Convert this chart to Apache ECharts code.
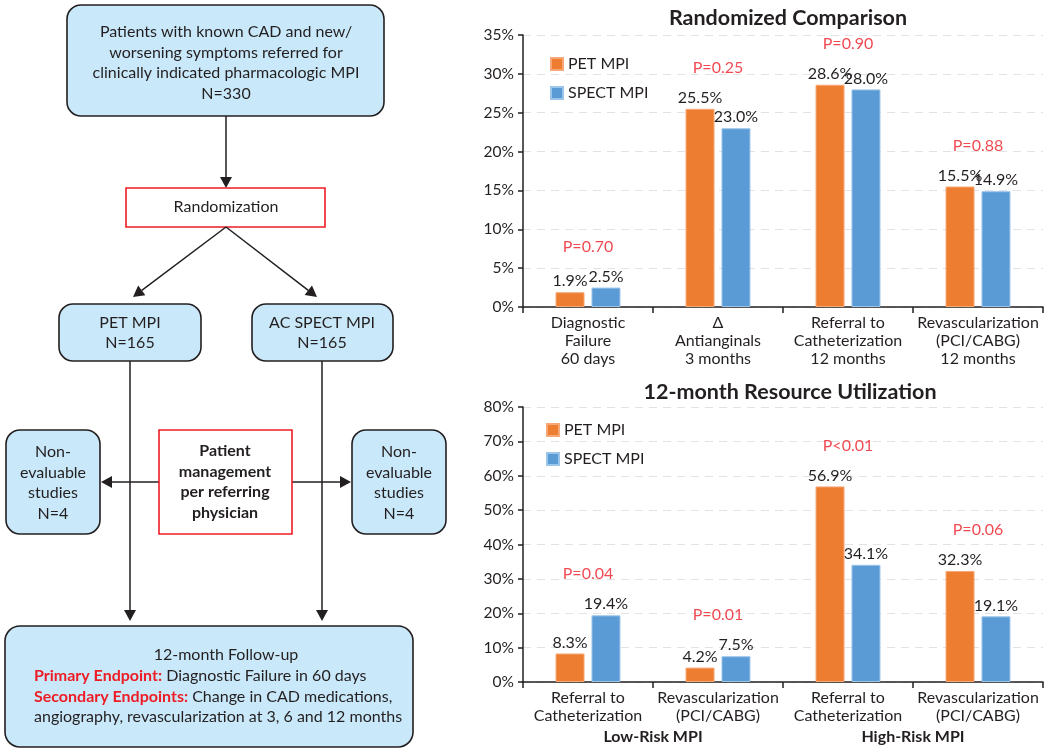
<!DOCTYPE html>
<html>
<head>
<meta charset="UTF-8">
<title>PET vs SPECT MPI</title>
<style>
  html, body {margin:0; padding:0; background:#fff;}
  #main {width:1050px; height:752px;}
</style>
<script src="https://cdn.jsdelivr.net/npm/echarts@6/dist/echarts.min.js"></script>
</head>
<body>
<div id="main"></div>
<script>
// top chart: randomized comparison
var cats1 = ['Diagnostic\nFailure\n60 days', '\u0394\nAntianginals\n3 months', 'Referral to\nCatheterization\n12 months', 'Revascularization\n(PCI/CABG)\n12 months'];
var pet1 = [1.9, 25.5, 28.6, 15.5];
var spect1 = [2.5, 23.0, 28.0, 14.9];
var pval1 = ['P=0.70', 'P=0.25', 'P=0.90', 'P=0.88'];

// bottom chart: 12-month resource utilization
var cats2 = ['Referral to\nCatheterization', 'Revascularization\n(PCI/CABG)', 'Referral to\nCatheterization', 'Revascularization\n(PCI/CABG)'];
var pet2 = [8.3, 4.2, 56.9, 32.3];
var spect2 = [19.4, 7.5, 34.1, 19.1];
var pval2 = ['P=0.04', 'P=0.01', 'P<0.01', 'P=0.06'];
var groups2 = ['Low-Risk MPI', 'High-Risk MPI'];

var FONT = 'Lato';
var ORANGE = '#ed7d31', BLUE = '#5b9bd5', RED = '#ee1c25', INK = '#231f20';
var BOXFILL = '#c9e8f9';

var chart = echarts.init(document.getElementById('main'));

// p-value sits a fixed pixel distance above the taller bar
function pPoints(a, b, pxPerUnit) {
    return a.map(function (v, i) { return Math.max(v, b[i]) + 41 / pxPerUnit; });
}

function barSeries(name, data, color, border, xi) {
    return {
        type: 'bar', name: name, xAxisIndex: xi, yAxisIndex: xi, data: data,
        barWidth: '22.3%', barGap: '24%',
        itemStyle: {color: color, borderColor: border, borderWidth: 1},
        label: {show: true, position: 'top', distance: 3, color: INK, fontFamily: FONT, fontSize: 16,
            formatter: function (p) { return p.value.toFixed(1) + '%'; }},
        emphasis: {disabled: true}
    };
}

function pSeries(data, labels, xi) {
    return {
        type: 'scatter', xAxisIndex: xi, yAxisIndex: xi, data: data, symbolSize: 1, z: 5,
        itemStyle: {color: 'transparent'}, silent: true,
        label: {show: true, position: 'inside', color: RED, fontFamily: FONT, fontSize: 16,
            formatter: function (p) { return labels[p.dataIndex]; }}
    };
}

var yLab = {color: INK, fontFamily: FONT, fontSize: 15.5, formatter: '{value}%', margin: 9};
var axLine = {show: true, lineStyle: {color: INK, width: 1.5}};
var xLab = {color: INK, fontFamily: FONT, fontSize: 16, lineHeight: 18, interval: 0, margin: 7};
var legendText = {fontFamily: FONT, fontSize: 16, color: INK};

// ---- flowchart helpers (left panel) ----
var g = [];
function box(x, y, w, h, r, stroke, fill) {
    g.push({type: 'rect', shape: {x: x, y: y, width: w, height: h, r: r},
        style: {fill: fill, stroke: stroke, lineWidth: 1.6}});
}
function txt(x, y, s, opt) {
    opt = opt || {};
    g.push({type: 'text', x: x, y: y, style: {
        text: s, fill: INK, fontFamily: FONT, fontSize: opt.size || 16, fontWeight: opt.bold ? 'bold' : 'normal',
        textAlign: opt.align || 'center', textVerticalAlign: 'middle', lineHeight: opt.lh || 20.5,
        rich: opt.rich
    }});
}
function arrow(x1, y1, x2, y2) {
    var dx = x2 - x1, dy = y2 - y1, L = Math.sqrt(dx * dx + dy * dy);
    var ux = dx / L, uy = dy / L, hl = 11, hw = 6;
    var bx = x2 - ux * hl, by = y2 - uy * hl;
    g.push({type: 'line', shape: {x1: x1, y1: y1, x2: bx, y2: by}, style: {stroke: INK, lineWidth: 1.5}});
    g.push({type: 'polygon', shape: {points: [[x2, y2], [bx - uy * hw, by + ux * hw], [bx + uy * hw, by - ux * hw]]},
        style: {fill: INK}});
}

box(67, 5, 317, 111, 14, INK, BOXFILL);
txt(226, 63, 'Patients with known CAD and new/\nworsening symptoms referred for\nclinically indicated pharmacologic MPI\nN=330');
arrow(226, 116, 226, 188);
box(126, 188, 199, 39, 0, RED, '#fff');
txt(226, 207, 'Randomization');
arrow(226, 227, 133, 297);
arrow(226, 227, 317, 297);
box(59, 304, 142, 57, 14, INK, BOXFILL);
txt(130, 333, 'PET MPI\nN=165');
box(252, 304, 141, 57, 14, INK, BOXFILL);
txt(322, 333, 'AC SPECT MPI\nN=165');
arrow(130, 361, 130, 621);
arrow(322, 361, 322, 621);
box(6, 430, 94, 104, 14, INK, BOXFILL);
txt(53, 483, 'Non-\nevaluable\nstudies\nN=4');
box(352, 430, 94, 104, 14, INK, BOXFILL);
txt(399, 483, 'Non-\nevaluable\nstudies\nN=4');
arrow(159, 482, 101, 482);
arrow(292, 482, 351, 482);
box(159, 430, 133, 104, 0, RED, '#fff');
txt(225, 482, 'Patient\nmanagement\nper referring\nphysician', {bold: true});
box(5, 626, 408, 121, 15, INK, BOXFILL);
txt(226, 655, '12-month Follow-up');
var redRich = {r: {fill: RED, fontWeight: 'bold', fontFamily: FONT, fontSize: 16}};
txt(34, 676, '{r|Primary Endpoint:} Diagnostic Failure in 60 days', {align: 'left', rich: redRich});
txt(34, 697, '{r|Secondary Endpoints:} Change in CAD medications,', {align: 'left', rich: redRich});
txt(34, 717, 'angiography, revascularization at 3, 6 and 12 months', {align: 'left'});

var option = {
    animation: false,
    textStyle: {fontFamily: FONT},
    title: [
        {text: 'Randomized Comparison', left: 783, top: 2, textAlign: 'center',
            textStyle: {fontFamily: FONT, fontSize: 21.5, fontWeight: 'bold', color: INK}},
        {text: '12-month Resource Utilization', left: 785, top: 376, textAlign: 'center',
            textStyle: {fontFamily: FONT, fontSize: 21.5, fontWeight: 'bold', color: INK}}
    ],
    legend: [
        {data: ['PET MPI', 'SPECT MPI'], orient: 'vertical', left: 550, top: 56, padding: 0, itemWidth: 12, itemHeight: 12,
            itemGap: 13, icon: 'rect', selectedMode: false, textStyle: legendText},
        {data: ['PET MPI', 'SPECT MPI'], orient: 'vertical', left: 546, top: 422, padding: 0, itemWidth: 12, itemHeight: 12,
            itemGap: 13, icon: 'rect', selectedMode: false, textStyle: legendText}
    ],
    grid: [
        {left: 523, width: 520, top: 35, height: 272},
        {left: 523, width: 520, top: 407, height: 275}
    ],
    xAxis: [
        {type: 'category', gridIndex: 0, data: cats1, axisLine: axLine,
            axisTick: {show: true, length: 6, lineStyle: {color: INK, width: 1.5}}, axisLabel: xLab},
        {type: 'category', gridIndex: 1, data: cats2, axisLine: axLine,
            axisTick: {show: true, length: 6, lineStyle: {color: INK, width: 1.5}}, axisLabel: xLab},
        {type: 'category', gridIndex: 1, data: groups2, position: 'bottom', axisLine: {show: false},
            axisTick: {show: false},
            axisLabel: {color: INK, fontFamily: FONT, fontSize: 16, fontWeight: 'bold', margin: 47, interval: 0}}
    ],
    yAxis: [
        {type: 'value', gridIndex: 0, min: 0, max: 35, interval: 5, axisLine: axLine,
            axisTick: {show: true, length: 5, lineStyle: {color: INK, width: 1.5}}, axisLabel: yLab,
            splitLine: {lineStyle: {color: '#e3e3e3', type: [8, 6]}}},
        {type: 'value', gridIndex: 1, min: 0, max: 80, interval: 10, axisLine: axLine,
            axisTick: {show: true, length: 5, lineStyle: {color: INK, width: 1.5}}, axisLabel: yLab,
            splitLine: {lineStyle: {color: '#e3e3e3', type: [8, 6]}}}
    ],
    series: [
        barSeries('PET MPI', pet1, ORANGE, '#f6a877', 0),
        barSeries('SPECT MPI', spect1, BLUE, '#9cc5ea', 0),
        pSeries(pPoints(pet1, spect1, 272 / 35), pval1, 0),
        barSeries('PET MPI', pet2, ORANGE, '#f6a877', 1),
        barSeries('SPECT MPI', spect2, BLUE, '#9cc5ea', 1),
        pSeries(pPoints(pet2, spect2, 275 / 80), pval2, 1)
    ],
    graphic: g
};
chart.setOption(option);
</script>
</body>
</html>
